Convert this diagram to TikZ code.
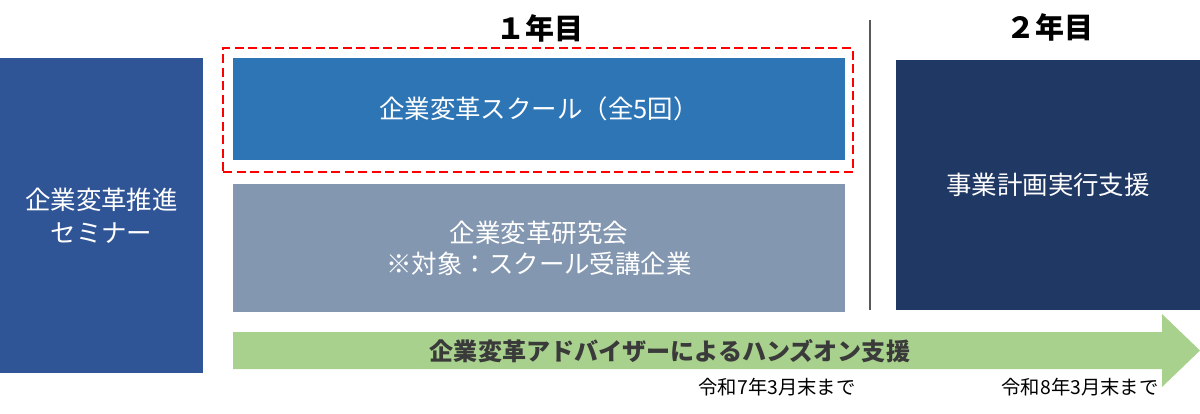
\documentclass[tikz,border=0pt]{standalone}
\usepackage{fontspec}
\setmainfont{Noto Sans CJK JP}
\definecolor{seminarblue}{HTML}{2F5597}
\definecolor{schoolblue}{HTML}{2E75B6}
\definecolor{studygray}{HTML}{8497B0}
\definecolor{supportnavy}{HTML}{203864}
\definecolor{handsongreen}{HTML}{A9D18E}
\definecolor{labelgray}{HTML}{3A3A3A}
\definecolor{dividergray}{HTML}{595959}
\begin{document}
\begin{tikzpicture}[x=0.02cm, y=-0.02cm,
    box/.style={inner sep=0pt, align=center, text=white, font=\fontsize{14.5}{19}\selectfont},
    yearlabel/.style={font=\fontsize{16.5}{20}\selectfont\bfseries},
    deadline/.style={font=\fontsize{11}{13}\selectfont}]
    \useasboundingbox (0,0) rectangle (1200,413);

    % Year headings
    \node[yearlabel] (year1) at (540,28) {１年目};
    \node[yearlabel] (year2) at (1050,27) {２年目};

    % Boxes
    \node[box, fill=seminarblue, minimum width=4.06cm, minimum height=6.3cm] (seminar) at (101.5,215.5) {企業変革推進\\セミナー};
    \node[box, fill=schoolblue, minimum width=12.24cm, minimum height=2.04cm] (school) at (539,109) {企業変革スクール（全5回）};
    \node[box, fill=studygray, minimum width=12.24cm, minimum height=2.56cm, font=\fontsize{14.5}{17.5}\selectfont] (study) at (539,248) {企業変革研究会\\※対象：スクール受講企業};
    \node[box, fill=supportnavy, minimum width=6.08cm, minimum height=5cm] (support) at (1048,185) {事業計画実行支援};

    % Dashed frame round the school
    \node[draw=red, line width=1.2pt, dash pattern=on 0.18cm off 0.09cm, minimum width=12.6cm, minimum height=2.48cm] (frame) at (538,110) {};

    % Divider between the years
    \coordinate (divtop) at (870,20);
    \coordinate (divbot) at (870,310);
    \draw[dividergray, line width=1.5pt] (divtop) -- (divbot);

    % Hands-on arrow
    \fill[handsongreen] (233,332) -- (1162,332) -- (1162,314) -- (1200,350.5) -- (1162,387) -- (1162,369) -- (233,369) -- cycle;
    \node[text=labelgray, font=\fontsize{13.7}{16}\selectfont\bfseries] (handson) at (670,351) {企業変革アドバイザーによるハンズオン支援};

    % Deadlines
    \node[deadline] (end1) at (777,387) {令和7年3月末まで};
    \node[deadline] (end2) at (1080,387) {令和8年3月末まで};

\end{tikzpicture}
\end{document}
